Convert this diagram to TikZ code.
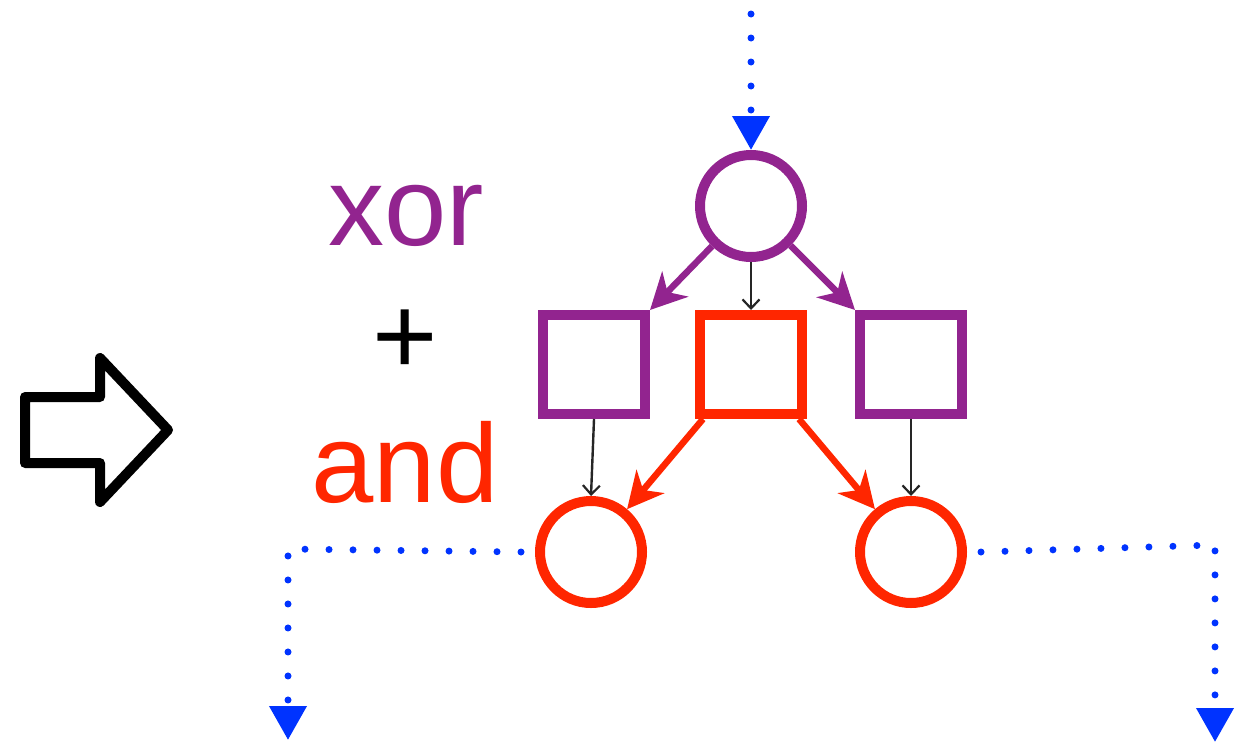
\documentclass[tikz,border=0pt]{standalone}
\usepackage{fontspec}
\setmainfont{Liberation Sans}
\usetikzlibrary{arrows.meta}
\definecolor{purp}{RGB}{146,36,143}
\definecolor{redc}{RGB}{255,38,0}
\definecolor{bluec}{RGB}{0,51,255}
\begin{document}
\begin{tikzpicture}[x=1pt,y=-1pt,
  place/.style={circle,draw,line width=10pt,minimum size=102pt,inner sep=0pt},
  trans/.style={rectangle,draw,line width=10pt,minimum width=102pt,minimum height=99pt,inner sep=0pt},
  thickarrow/.style={line width=6.5pt,-{Stealth[length=36pt,width=36pt,inset=11pt]}},
  thinarrow/.style={line width=2.4pt,draw=black!85,-{Straight Barb[length=9pt,width=17pt,line width=2.2pt]}},
  dotline/.style={draw=bluec,line width=7pt,line cap=round,dash pattern=on 0pt off 24pt,
     -{Triangle[length=34pt,width=36pt,fill=bluec]}},
  bigtext/.style={font=\fontsize{112}{130}\selectfont,inner sep=0pt,anchor=base}
]
\useasboundingbox (0,0) rectangle (1241,742);
% big hollow arrow
\draw[line width=10pt,line join=round] (25,397) -- (100,397) -- (100,358) -- (168,430)
  -- (100,502) -- (100,463) -- (25,463) -- cycle;
% labels
\node[bigtext,text=purp] (xor) at (406.5,245) {xor};
\node[bigtext] (plus) at (405.5,374) {+};
\node[bigtext,text=redc] (and) at (405,502) {and};
% places and transitions
\node[place,draw=purp] (tc) at (751,206) {};
\node[trans,draw=purp] (lb) at (594,364.5) {};
\node[trans,draw=redc] (mb) at (751,364.5) {};
\node[trans,draw=purp] (rb) at (911,364.5) {};
\node[place,draw=redc] (lc) at (591,552) {};
\node[place,draw=redc] (rc) at (911,552) {};
% coordinates for dotted connectors
\coordinate (topstart) at (751,14);
\coordinate (lcorner) at (288,549);
\coordinate (lend) at (288,740);
\coordinate (rcorner) at (1215,545);
\coordinate (rend) at (1215,742);
% connectors
\draw[thickarrow,draw=purp,fill=purp] (tc) -- (lb.north east);
\draw[thickarrow,draw=purp,fill=purp] (tc) -- (rb.north west);
\draw[thinarrow] (tc.south) -- (mb.north);
\draw[thinarrow] (lb.south) -- (lc.north);
\draw[thinarrow] (rb.south) -- (rc.north);
\draw[thickarrow,draw=redc,fill=redc] ([xshift=8pt]mb.south west) -- (lc);
\draw[thickarrow,draw=redc,fill=redc] ([xshift=-8pt]mb.south east) -- (rc);
\draw[dotline] (topstart) -- (tc.north);
\draw[dotline] ([xshift=-14pt]lc.west) -- (lcorner) -- (lend);
\draw[dotline] ([xshift=14pt]rc.east) -- (rcorner) -- (rend);
\end{tikzpicture}
\end{document}
